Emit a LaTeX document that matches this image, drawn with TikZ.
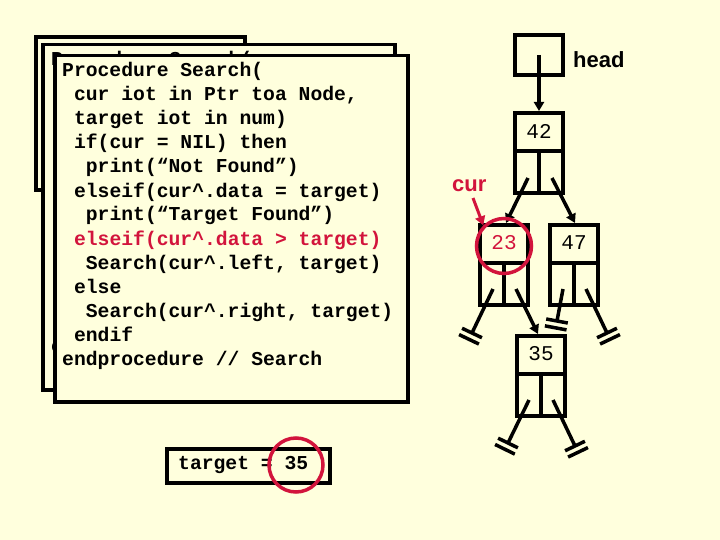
\documentclass[tikz,border=0pt]{standalone}
\usepackage{fontspec}
\usetikzlibrary{arrows.meta,calc}
\newfontfamily\codefont{Liberation Mono}
\newfontfamily\labfont{Liberation Sans}
\definecolor{bg}{RGB}{255,255,221}
\definecolor{hl}{RGB}{210,20,60}
\newcommand\gndline[2]{%
  \draw[gnd] (#1) -- (#2);
  \draw[gnd] ($(#2)!11pt!90:(#1)$) -- ($(#2)!11pt!-90:(#1)$);
  \coordinate (gtmp) at ($(#2)!-7pt!(#1)$);
  \draw[gnd] ($(gtmp)!11pt!90:(#2)$) -- ($(gtmp)!11pt!-90:(#2)$);
}
\begin{document}
\frenchspacing
\begin{tikzpicture}[x=1pt,y=-1pt,
  codebox/.style={draw=black, line width=3.5pt, fill=bg},
  codeline/.style={anchor=base west, inner sep=0pt, font=\codefont\bfseries\fontsize{19.7}{24}\selectfont},
  tnode/.style={draw, line width=4pt, minimum width=48pt, minimum height=80pt, inner sep=0pt},
  hnode/.style={draw, line width=4pt, minimum width=48pt, minimum height=40pt, inner sep=0pt},
  num/.style={font=\codefont\fontsize{21}{24}\selectfont, inner sep=0pt},
  lab/.style={anchor=base west, inner sep=0pt, font=\labfont\bfseries\fontsize{22}{24}\selectfont},
  ptr/.style={line width=3.5pt, -{Triangle[length=9pt,width=10pt]}},
  rptr/.style={draw=hl, line width=3pt, -{Triangle[length=9pt,width=10pt]}},
  gnd/.style={line width=3.5pt},
  ring/.style={draw=hl, line width=3.5pt, circle, minimum size=55pt, inner sep=0pt},
  div/.style={line width=4pt}
]
\fill[bg] (0,0) rectangle (720,540);
\useasboundingbox (0,0) rectangle (720,540);

% stacked code boxes
\draw[codebox] (36,37) rectangle (245,190);
\draw[codebox] (43,44.5) rectangle (395,390);
\node[codeline] (b0) at (51,66) {Procedure Search(};
\node[codeline] (b12) at (51,352) {endprocedure // Search};
\draw[codebox] (55,55.5) rectangle (408,402);

\node[codeline] (c0) at (62,77) {Procedure Search(};
\node[codeline] (c1) at (73.9,101) {cur iot in Ptr toa Node,};
\node[codeline] (c2) at (73.9,125) {target iot in num)};
\node[codeline] (c3) at (73.9,149) {if(cur = NIL) then};
\node[codeline] (c4) at (85.7,173) {print(“Not Found”)};
\node[codeline] (c5) at (73.9,197) {elseif(cur\textasciicircum.data = target)};
\node[codeline] (c6) at (85.7,221) {print(“Target Found”)};
\node[codeline, text=hl] (c7) at (73.9,245) {elseif(cur\textasciicircum.data > target)};
\node[codeline] (c8) at (85.7,269) {Search(cur\textasciicircum.left, target)};
\node[codeline] (c9) at (73.9,293) {else};
\node[codeline] (c10) at (85.7,317) {Search(cur\textasciicircum.right, target)};
\node[codeline] (c11) at (73.9,341) {endif};
\node[codeline] (c12) at (62,365) {endprocedure // Search};

% target box
\draw[line width=3.5pt] (167,449) rectangle (330,483);
\node[codeline] (tg) at (178,469) {target = 35};
\node[ring, minimum size=54pt] (tgring) at (296,465) {};

% tree
\node[hnode] (hbox) at (539,55) {};
\node[lab] (headlab) at (573,68) {head};

\node[tnode] (n42) at (539,153) {};
\node[tnode] (n23) at (504,265) {};
\node[tnode] (n47) at (574,265) {};
\node[tnode] (n35) at (541,376) {};
\foreach \n in {n42,n23,n47,n35}{
  \draw[div] ($(\n.north west)+(0,40)$) -- ($(\n.north east)+(0,40)$);
  \draw[div] ($(\n.north)+(0,40)$) -- (\n.south);
}
\node[num] (t42) at ($(n42.north)+(0,20)$) {42};
\node[num, text=hl] (t23) at ($(n23.north)+(0,20)$) {23};
\node[num] (t47) at ($(n47.north)+(0,20)$) {47};
\node[num] (t35) at ($(n35.north)+(0,20)$) {35};

\draw[ptr] (hbox.center) -- (n42.north);

\coordinate (s42l) at (528,178);
\coordinate (s42r) at (552,178);
\coordinate (s23l) at (493,289);
\coordinate (s23r) at (516,289);
\coordinate (s47l) at (563,289);
\coordinate (s47r) at (586,289);
\coordinate (s35l) at (529,400);
\coordinate (s35r) at (553,400);

\draw[ptr] (s42l) -- ($(n23.north)+(2,0)$);
\draw[ptr] (s42r) -- ($(n47.north)+(1,0)$);
\draw[ptr] (s23r) -- ($(n35.north)+(-3,0)$);

\coordinate (e23l) at (472,333);
\coordinate (e47l) at (557,321);
\coordinate (e47r) at (607,333);
\coordinate (e35l) at (508,443);
\coordinate (e35r) at (575,446);
\gndline{s23l}{e23l}
\gndline{s47l}{e47l}
\gndline{s47r}{e47r}
\gndline{s35l}{e35l}
\gndline{s35r}{e35r}

% cur marker
\node[ring] (curring) at (504,246) {};
\node[lab, text=hl] (curlab) at (452,192) {cur};
\coordinate (curs) at (473,198);
\draw[rptr] (curs) -- (curring.north west);
\end{tikzpicture}
\end{document}
